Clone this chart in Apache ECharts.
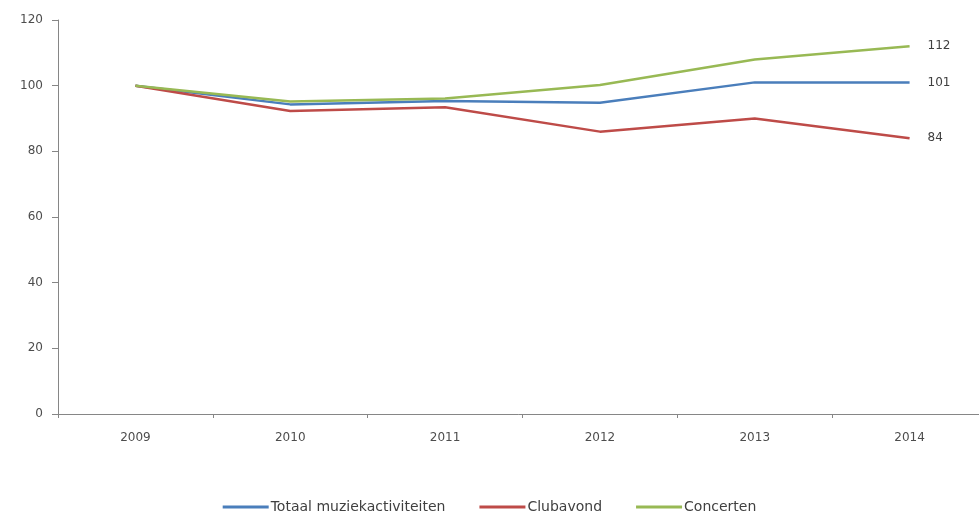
<!DOCTYPE html>
<html><head><meta charset="utf-8">
<script src="https://cdn.jsdelivr.net/npm/echarts@6/dist/echarts.min.js"></script>
<style>html,body{margin:0;padding:0;background:#fff}#c{width:979px;height:513px}</style>
</head><body><div id="c"></div>
<script>
const categories = ['2009','2010','2011','2012','2013','2014'];
const totaal = [100, 94.3, 95.3, 94.8, 101, 101];
const clubavond = [100, 92.3, 93.4, 86, 90, 84];
const concerten = [100, 95.2, 96.1, 100.2, 108, 112];
const endLabels = ['101','84','112'];
const yTicks = [0,20,40,60,80,100,120];

const chart = echarts.init(document.getElementById('c'));
const font = '"DejaVu Sans", sans-serif';
function mk(name, data, color, lbl){
  return {name, type:'line', data, symbol:'none', smooth:false,
    lineStyle:{width:2.5,color}, itemStyle:{color},
    endLabel:{show:true, formatter:()=>lbl, distance:18, color:'#404040', fontSize:12, fontFamily:font}};
}
chart.setOption({
  animation:false,
  grid:{left:58, width:929, top:20, bottom:99, containLabel:false, outerBoundsMode:'none'},
  xAxis:{type:'category', data:categories, boundaryGap:true,
    axisLine:{lineStyle:{color:'#868686',width:1}},
    axisTick:{show:true, length:4, lineStyle:{color:'#868686'}},
    axisLabel:{color:'#4d4d4d', fontSize:12, fontFamily:font, margin:18}},
  yAxis:{type:'value', min:0, max:120, interval:20,
    axisLine:{show:true, lineStyle:{color:'#868686',width:1}},
    axisTick:{show:true, length:6, lineStyle:{color:'#868686'}},
    splitLine:{show:false},
    axisLabel:{color:'#4d4d4d', fontSize:12, fontFamily:font, margin:15,
      formatter:v=>yTicks.includes(v)?String(v):''}},
  legend:{top:495, left:'center', itemWidth:46, itemHeight:3, itemGap:34, icon:'rect',
    textStyle:{color:'#404040', fontSize:14, fontFamily:font, padding:[0,0,0,-3]},
    data:['Totaal muziekactiviteiten','Clubavond','Concerten']},
  series:[
    mk('Totaal muziekactiviteiten', totaal, '#4a7ebb', endLabels[0]),
    mk('Clubavond', clubavond, '#be4b48', endLabels[1]),
    mk('Concerten', concerten, '#98b954', endLabels[2])
  ]
});
</script></body></html>
